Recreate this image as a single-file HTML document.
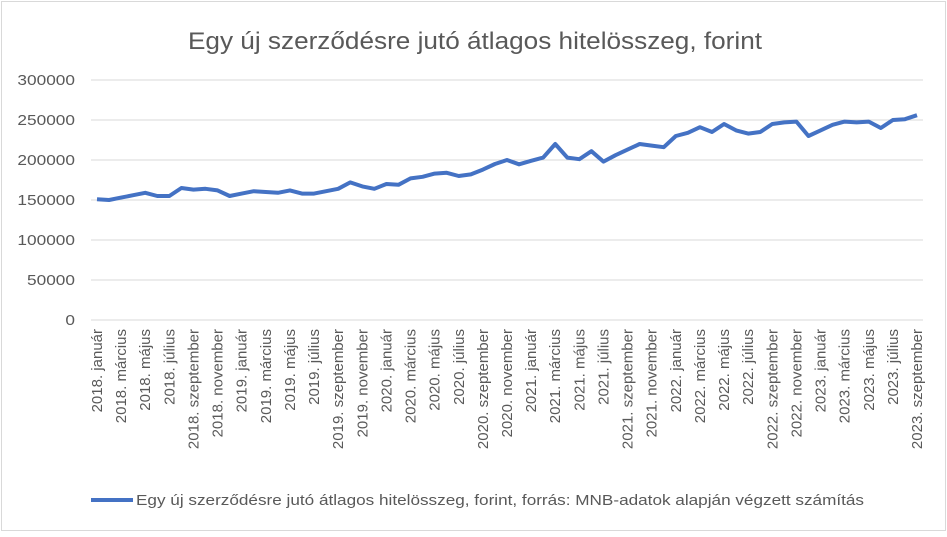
<!DOCTYPE html>
<html><head><meta charset="utf-8"><style>
body{margin:0;background:#fff}
svg text{font-family:"Liberation Sans",sans-serif;fill:#595959}
</style></head><body>
<svg id="c" width="947" height="532" xmlns="http://www.w3.org/2000/svg">
<rect x="1.5" y="1.5" width="944" height="529" fill="#fff" stroke="#d9d9d9"/>
<text x="475" y="49" font-size="24" text-anchor="middle" textLength="574" lengthAdjust="spacingAndGlyphs">Egy új szerződésre jutó átlagos hitelösszeg, forint</text>
<g id="grid"></g><g id="ylab"></g><g id="xlab"></g>
<polyline id="line" fill="none" stroke="#4472c4" stroke-width="4" stroke-linejoin="round"/>
<line x1="91" y1="500" x2="133" y2="500" stroke="#4472c4" stroke-width="4"/>
<text x="136" y="505" font-size="15" textLength="728" lengthAdjust="spacingAndGlyphs">Egy új szerződésre jutó átlagos hitelösszeg, forint, forrás: MNB-adatok alapján végzett számítás</text>
</svg>
<script>
const values=[151000,150000,153000,156000,159000,155000,155000,165000,163000,164000,162000,155000,158000,161000,160000,159000,162000,158000,158000,161000,164000,172000,167000,164000,170000,169000,177000,179000,183000,184000,180000,182000,188000,195000,200000,194600,199000,203000,220000,203000,201000,211000,198000,206000,213000,220000,218000,216000,230000,234000,241000,235000,245000,237000,233000,235000,245000,247000,248000,230000,237000,244000,248000,247000,248000,240000,250000,251000,256000];
const years=[2018,2019,2020,2021,2022,2023];
const months=["január","február","március","április","május","június","július","augusztus","szeptember","október","november","december"];
const yTicks=[0,50000,100000,150000,200000,250000,300000];
const NS="http://www.w3.org/2000/svg";
const X=i=>97+i*(820/68), Y=v=>320-v*0.0008;
const grid=document.getElementById('grid'),yl=document.getElementById('ylab'),xl=document.getElementById('xlab');
yTicks.forEach(t=>{
 const l=document.createElementNS(NS,'line');
 l.setAttribute('x1',91);l.setAttribute('x2',923);l.setAttribute('y1',Y(t));l.setAttribute('y2',Y(t));
 l.setAttribute('stroke','#d9d9d9');l.setAttribute('stroke-width','1');
 
 
 grid.appendChild(l);
 const s=document.createElementNS(NS,'text');
 s.setAttribute('x',75);s.setAttribute('y',Y(t)+5);s.setAttribute('text-anchor','end');s.setAttribute('font-size','15');
 s.textContent=t;
 
 
 yl.appendChild(s);
 s.setAttribute('textLength',s.getComputedTextLength()*1.15);
 s.setAttribute('lengthAdjust','spacingAndGlyphs');
});
for(let i=0;i<values.length;i+=2){
 const y=years[Math.floor(i/12)],m=months[i%12];
 const s=document.createElementNS(NS,'text');
 const x=X(i)+5;
 s.setAttribute('x',x);s.setAttribute('y',329);s.setAttribute('text-anchor','end');s.setAttribute('font-size','15');
 s.setAttribute('transform','rotate(-90 '+x+' 329)');
 s.textContent=y+'. '+m;
 
 
 xl.appendChild(s);
}
document.getElementById('line').setAttribute('points',values.map((v,i)=>X(i)+','+Y(v)).join(' '));
</script>
</body></html>
